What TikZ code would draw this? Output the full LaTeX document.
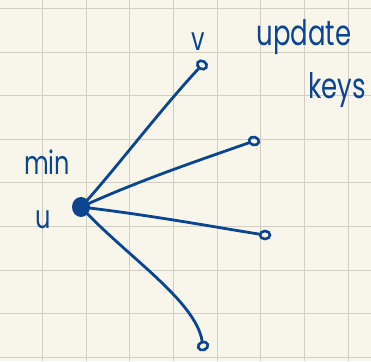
\documentclass[tikz,border=0pt]{standalone}
\usepackage{fontspec}
\setmainfont{Poppins}
\usetikzlibrary{shapes.geometric}
\definecolor{paper}{HTML}{F8F5EA}
\definecolor{gridc}{HTML}{D2CFC2}
\definecolor{ink}{HTML}{0B4490}
\tikzset{
  pen/.style={draw=ink, line width=2.8pt, line cap=round},
  endring/.style={draw=ink, line width=2.6pt, ellipse, inner sep=0pt, minimum width=10pt, minimum height=8pt},
  hand/.style={text=ink, inner sep=0pt, font=\fontsize{24}{26}\selectfont},
}
\newcommand{\tallword}[1]{\scalebox{1}[1.35]{#1}}
\begin{document}
\begin{tikzpicture}[x=1pt, y=-1pt]
  % paper and grid
  \fill[paper] (0,0) rectangle (371,361);
  \useasboundingbox (0,0) rectangle (371,361);
  \foreach \k in {0,...,7} {
    \draw[gridc, line width=0.9pt] ({42.3+43.67*\k},0) -- ({42.3+43.67*\k},361);
  }
  \foreach \k in {0,...,8} {
    \draw[gridc, line width=0.9pt] (0,{8.4+43.6*\k}) -- (371,{8.4+43.6*\k});
  }

  % vertices
  \node[fill=ink, ellipse, minimum width=18pt, minimum height=20pt, inner sep=0pt] (u) at (81,207) {};
  \node[endring, rotate=-30] (v) at (202,65) {};
  \node[endring, rotate=-15] (a) at (254,141) {};
  \node[endring] (b) at (265,235) {};
  \node[endring, rotate=20] (c) at (203,346) {};

  % edges
  \draw[pen] (u.center) .. controls (110,176) and (160,110) .. (v);
  \draw[pen] (u.center) .. controls (140,180) and (200,160) .. (a);
  \draw[pen] (u.center) .. controls (150,215) and (220,228) .. (b);
  \draw[pen] (u.center) .. controls (125,255) and (195,300) .. (c);

  % labels
  \node[hand] (lv) at (198,42) {\tallword{v}};
  \node[hand] (lmin) at (47,162) {\tallword{min}};
  \node[hand] (lu) at (43,220) {\tallword{u}};
  \node[hand, font=\fontsize{26}{28}\selectfont] (lupd) at (304,37) {\tallword{update}};
  \node[hand, font=\fontsize{26}{28}\selectfont] (lkeys) at (337,90) {\tallword{keys}};
\end{tikzpicture}
\end{document}
